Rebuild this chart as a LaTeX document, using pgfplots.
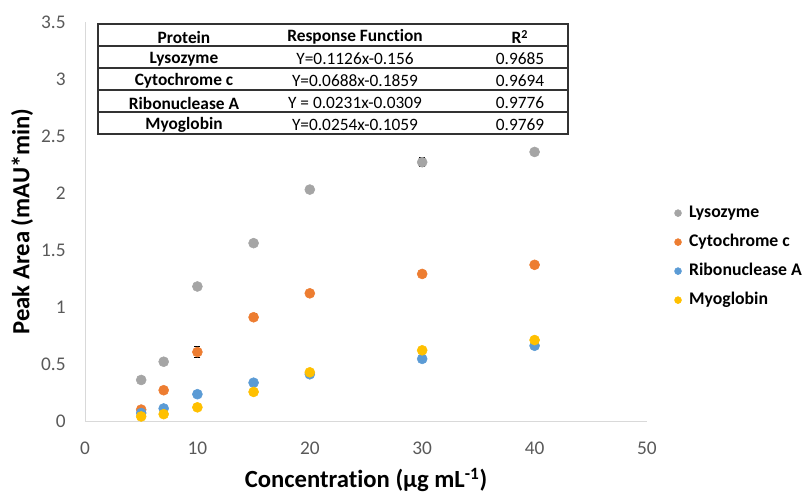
\documentclass[border=0pt]{standalone}
\usepackage{pgfplots}
\pgfplotsset{compat=1.18}
\usepackage{fontspec}
\setmainfont{Carlito}[Ligatures=NoCommon]
\definecolor{cgray}{HTML}{A5A5A5}
\definecolor{corange}{HTML}{ED7D31}
\definecolor{cblue}{HTML}{5B9BD5}
\definecolor{cyellow}{HTML}{FFC000}
\definecolor{ticktext}{HTML}{595959}
\definecolor{axline}{HTML}{D9D9D9}
\begin{document}
\begin{tikzpicture}
\begin{axis}[
  scale only axis, width=421.5pt, height=299.25pt,
  xmin=0, xmax=50, ymin=0, ymax=3.5,
  xtick={0,10,...,50}, ytick={0,0.5,...,3.5},
  axis lines*=left,
  axis line style={draw=axline, line width=0.75pt},
  tick style={draw=none},
  /pgf/number format/assume math mode=true,
  ticklabel style={font=\fontsize{14.5}{16}\selectfont, text=ticktext},
  yticklabel style={xshift=-11pt},
  xticklabel style={yshift=-12pt},
  xlabel={\textbf{Concentration (µg mL\textsuperscript{-1})}},
  ylabel={\textbf{Peak Area (mAU*min)}},
  label style={font=\fontsize{18.5}{20}\selectfont},
  xlabel style={at={(axis description cs:0.5,-0.148)}, anchor=center},
  ylabel style={at={(axis description cs:-0.112,0.5)}, anchor=center},
  legend style={draw=none, fill=none, at={(1.037,0.412)}, anchor=west,
    font=\fontsize{13.3}{15}\selectfont\bfseries, row sep=6.75pt,
    nodes={text height=10pt, text depth=3pt, inner sep=1pt}},
  legend cell align=left,
  legend image code/.code={\path (0,0) (0.4cm,0); \draw[#1, mark size=2.6pt] plot coordinates {(0.15cm,0cm)};},
  error bars/y dir=both, error bars/y explicit,
  error bars/error bar style={black, line width=0.6pt},
  error bars/error mark options={rotate=90, mark size=2.2pt, black, line width=0.6pt},
]
\addplot[only marks, mark=*, mark size=3.75pt, mark options={fill=cgray, draw=cgray}]
  table[x=x, y=y, y error=e] {
x y e
5 0.36 0.01
7 0.52 0.01
10 1.18 0.01
15 1.56 0.01
20 2.03 0.01
30 2.27 0.04
40 2.36 0.02
};
\addlegendentry{Lysozyme}
\addplot[only marks, mark=*, mark size=3.75pt, mark options={fill=corange, draw=corange}]
  table[x=x, y=y, y error=e] {
x y e
5 0.10 0.01
7 0.27 0.01
10 0.605 0.05
15 0.91 0.03
20 1.12 0.01
30 1.29 0.01
40 1.37 0.01
};
\addlegendentry{Cytochrome c}
\addplot[only marks, mark=*, mark size=3.75pt, mark options={fill=cblue, draw=cblue}]
  table[x=x, y=y, y error=e] {
x y e
5 0.07 0.01
7 0.11 0.01
10 0.235 0.01
15 0.336 0.01
20 0.41 0.01
30 0.545 0.01
40 0.66 0.01
};
\addlegendentry{Ribonuclease A}
\addplot[only marks, mark=*, mark size=3.75pt, mark options={fill=cyellow, draw=cyellow}]
  table[x=x, y=y, y error=e] {
x y e
5 0.04 0.01
7 0.06 0.01
10 0.12 0.01
15 0.255 0.01
20 0.427 0.01
30 0.62 0.01
40 0.71 0.01
};
\addlegendentry{Myoglobin}
\end{axis}
\pgfresetboundingbox
\begin{scope}[shift={(-63.75pt,315.75pt)}, x=0.75pt, y=-0.75pt]
  \path (0,0) rectangle (807,493);
  \draw[line width=0.8pt, black!80] (98,24) rectangle (568,134);
  \foreach \yy in {46,68,90,112} \draw[line width=0.8pt, black!80] (98,\yy) -- (568,\yy);
  \begin{scope}[every node/.style={font=\fontsize{13}{14}\selectfont, inner sep=0pt, anchor=center, yshift=-1.5pt}]
    \node[font=\fontsize{13}{14}\selectfont\bfseries] at (184,35) {Protein};
    \node[font=\fontsize{13}{14}\selectfont\bfseries] at (355,35) {Response Function};
    \node[font=\fontsize{13}{14}\selectfont\bfseries] at (520,35) {R\textsuperscript{2}};
    \node[font=\fontsize{13}{14}\selectfont\bfseries] at (184,57) {Lysozyme};
    \node[font=\fontsize{13}{14}\selectfont\bfseries] at (184,79) {Cytochrome c};
    \node[font=\fontsize{13}{14}\selectfont\bfseries] at (184,101) {Ribonuclease A};
    \node[font=\fontsize{13}{14}\selectfont\bfseries] at (184,123) {Myoglobin};
    \node at (355,57) {Y=0.1126x-0.156};
    \node at (355,79) {Y=0.0688x-0.1859};
    \node at (355,101) {Y = 0.0231x-0.0309};
    \node at (355,123) {Y=0.0254x-0.1059};
    \node at (520,57) {0.9685};
    \node at (520,79) {0.9694};
    \node at (520,101) {0.9776};
    \node at (520,123) {0.9769};
  \end{scope}
\end{scope}
\end{tikzpicture}
\end{document}
